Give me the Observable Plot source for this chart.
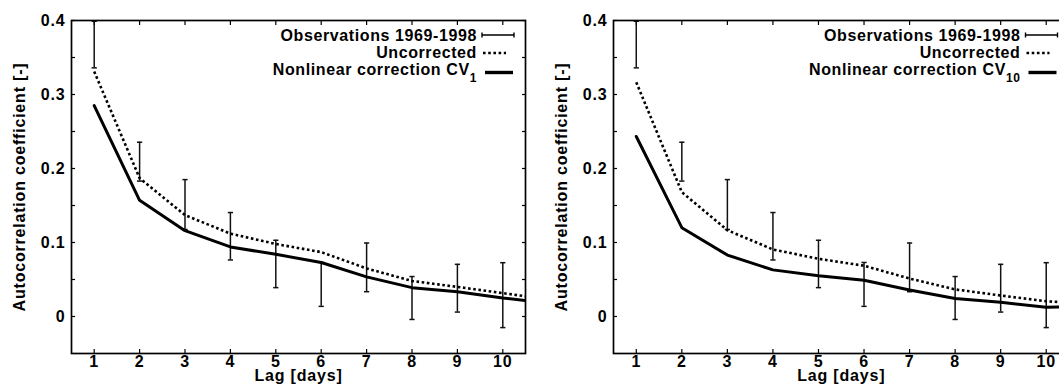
<!DOCTYPE html>
<html>
<head>
<meta charset="utf-8">
<script src="https://cdn.jsdelivr.net/npm/d3@7"></script>
<script src="https://cdn.jsdelivr.net/npm/@observablehq/plot@0.6"></script>
<style>
  html, body { margin: 0; padding: 0; background: #fff; }
  #wrap { width: 1059px; height: 384px; overflow: hidden; display: flex; position: relative; }
  #wrap > * { flex-shrink: 0; }
</style>
</head>
<body>
<div id="wrap"></div>
<script>
// ---- data ----
const lags = [1, 2, 3, 4, 5, 6, 7, 8, 9, 10];
const obsHi = [0.399, 0.2355, 0.185, 0.1405, 0.103, 0.073, 0.0993, 0.054, 0.0705, 0.0727];
const obsLo = [0.336, 0.183, 0.1176, 0.0764, 0.039, 0.0137, 0.0335, -0.004, 0.006, -0.015];

const lineLags = [1, 2, 3, 4, 5, 6, 7, 8, 9, 10, 11];
const uncorrected1 = [0.331, 0.187, 0.137, 0.112, 0.098, 0.087, 0.065, 0.048, 0.040, 0.0316, 0.023];
const corrected1 = [0.285, 0.157, 0.116, 0.094, 0.084, 0.073, 0.0535, 0.039, 0.0335, 0.025, 0.018];
const uncorrected10 = [0.3165, 0.168, 0.1166, 0.0906, 0.078, 0.0686, 0.0513, 0.0366, 0.0284, 0.0206, 0.017];
const corrected10 = [0.2433, 0.12, 0.083, 0.063, 0.055, 0.049, 0.0357, 0.0243, 0.0192, 0.0124, 0.014];

const xTicks = [1, 2, 3, 4, 5, 6, 7, 8, 9, 10];
const yTicks = [0, 0.05, 0.1, 0.15, 0.2, 0.25, 0.3, 0.35, 0.4];
const yLabelTicks = [0, 0.1, 0.2, 0.3, 0.4];

const xLabel = "Lag [days]";
const yLabel = "Autocorrelation coefficient [-]";
const legendObs = "Observations 1969-1998";
const legendUnc = "Uncorrected";
const legendCorr = "Nonlinear correction CV";

// ---- helpers ----
const FONT = "'Liberation Sans', Arial, Helvetica, sans-serif";
const obs = lags.map((l, i) => ({lag: l, hi: obsHi[i], lo: obsLo[i]}));
const capSymbol = {draw(ctx) { ctx.moveTo(-2.6, 0); ctx.lineTo(2.6, 0); }};

function panel({width, marginLeft, marginRight, unc, corr, sub}) {
  const uData = lineLags.map((l, i) => ({lag: l, v: unc[i]}));
  const cData = lineLags.map((l, i) => ({lag: l, v: corr[i]}));
  const marginTop = 20, marginBottom = 31, height = 384;
  const plot = Plot.plot({
    width, height, marginLeft, marginRight, marginTop, marginBottom,
    style: {fontFamily: FONT, fontWeight: "bold", fontSize: "16px", letterSpacing: "0.8px", color: "#000", background: "#fff", overflow: "visible"},
    x: {domain: [0.5, 10.5]},
    y: {domain: [-0.05, 0.4]},
    marks: [
      // ticks inward (bottom/top/left/right)
      Plot.axisX({anchor: "bottom", ticks: xTicks, tickSize: -4, tickFormat: () => "", label: null, strokeWidth: 1.2}),
      Plot.axisX({anchor: "top", ticks: xTicks, tickSize: -4, tickFormat: () => "", label: null, strokeWidth: 1.2}),
      Plot.axisY({anchor: "left", ticks: yTicks, tickSize: -4, tickFormat: () => "", label: null, strokeWidth: 1.2}),
      Plot.axisY({anchor: "right", ticks: yTicks, tickSize: -4, tickFormat: () => "", label: null, strokeWidth: 1.2}),
      // tick labels
      Plot.axisX({anchor: "bottom", ticks: xTicks, tickSize: 0, tickPadding: 2, label: null}),
      Plot.axisY({anchor: "left", ticks: yLabelTicks, tickSize: 0, tickPadding: 6, label: null, tickFormat: d => String(d)}),
      // axis titles
      Plot.axisX({anchor: "bottom", ticks: [], tickSize: 0, label: xLabel, labelAnchor: "center", labelOffset: 27, labelArrow: "none", fontSize: 16, letterSpacing: "0.5px"}),
      Plot.axisY({anchor: "left", ticks: [], tickSize: 0, label: yLabel, labelAnchor: "center", labelOffset: 58, labelArrow: "none", fontSize: 16, letterSpacing: "0.45px"}),
      // error bars
      Plot.ruleX(obs, {x: "lag", y1: "lo", y2: "hi", strokeWidth: 1.5, stroke: "#111"}),
      Plot.dot(obs, {x: "lag", y: "hi", symbol: capSymbol, stroke: "#111", strokeWidth: 1.5, r: 3}),
      Plot.dot(obs, {x: "lag", y: "lo", symbol: capSymbol, stroke: "#111", strokeWidth: 1.5, r: 3}),
      // lines
      Plot.line(uData, {x: "lag", y: "v", stroke: "#000", strokeWidth: 2.6, strokeDasharray: "2.6,2.6", strokeLinejoin: "miter", strokeLinecap: "butt", clip: true}),
      Plot.line(cData, {x: "lag", y: "v", stroke: "#000", strokeWidth: 3, strokeLinejoin: "miter", clip: true}),
      Plot.frame({stroke: "#000", strokeWidth: 1.7})
    ]
  });
  // legend drawn in pixel space, anchored to the frame's top-right corner
  const svg = d3.select(plot);
  const right = width - marginRight, top = marginTop;
  const g = svg.append("g").attr("fill", "#000").attr("font-family", FONT).attr("font-weight", "bold").attr("font-size", 16).attr("letter-spacing", "0.6px");
  const textX = right - 48;
  const rows = [top + 15, top + 32, top + 49];
  g.append("text").attr("x", textX).attr("y", rows[0]).attr("dy", "0.36em").attr("text-anchor", "end").text(legendObs);
  g.append("text").attr("x", textX).attr("y", rows[1]).attr("dy", "0.36em").attr("text-anchor", "end").text(legendUnc);
  const t3 = g.append("text").attr("x", textX).attr("y", rows[2]).attr("dy", "0.36em").attr("text-anchor", "end");
  t3.append("tspan").text(legendCorr);
  t3.append("tspan").attr("dy", 7).attr("font-size", 12).text(sub);
  // samples
  const s = g.append("g").attr("stroke", "#000").attr("fill", "none");
  s.append("path").attr("d", `M${right - 43},${rows[0]}H${right - 11}M${right - 43},${rows[0] - 2.5}v5M${right - 11},${rows[0] - 2.5}v5`).attr("stroke-width", 1.4);
  s.append("path").attr("d", `M${right - 42},${rows[1] + 1}H${right - 19}`).attr("stroke-width", 2.6).attr("stroke-dasharray", "2.6,2.6");
  s.append("path").attr("d", `M${right - 40},${rows[2] + 3.5}H${right - 12}`).attr("stroke-width", 3.4);
  return plot;
}

const wrap = document.getElementById("wrap");
wrap.appendChild(panel({width: 530, marginLeft: 71, marginRight: 5, unc: uncorrected1, corr: corrected1, sub: "1"}));
wrap.appendChild(panel({width: 545, marginLeft: 83, marginRight: 6.5, unc: uncorrected10, corr: corrected10, sub: "10"}));
</script>
</body>
</html>
